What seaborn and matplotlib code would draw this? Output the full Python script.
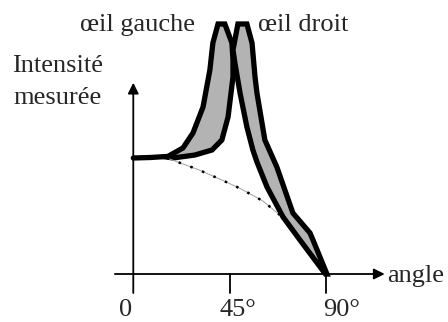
import matplotlib
matplotlib.use("Agg")
import matplotlib.pyplot as plt
import seaborn as sns
import pandas as pd

# angle (degrees) / measured intensity (peak = 100)
base_angle = [0, 8, 15.5]
base_int = [46.4, 46.6, 47.0]

left_angle = [15.7, 23.2, 27.9, 32.6, 35.8, 37.2, 39.6, 42.8, 46.1, 46.6,
              46.6, 44.3, 41.4, 36.8, 28.8, 18.6]
left_int = [46.8, 50.4, 56.4, 66.8, 81.6, 92.4, 100, 100, 92.4, 85.6,
            78.8, 62.8, 53.6, 49.6, 47.6, 46.4]

right_angle = [48.9, 46.6, 47.5, 49.9, 53.1, 55.9, 57.8, 62.5, 70.0, 77.9,
               89.8, 90.5, 84.0, 82.6, 74.6, 67.1, 61.5, 57.8, 56.9, 55.5,
               53.1]
right_int = [100, 89.6, 84.4, 72.4, 58.8, 49.6, 44.8, 34.8, 22.8, 13.6,
             0, 0, 13.6, 16.4, 24.4, 42.8, 53.6, 72.4, 78.8, 92.4, 100]

dot_angle = [15.7, 30.2, 41.4, 50.0, 60.6, 68.5]
dot_int = [46.4, 41.8, 37.6, 34.2, 29.2, 23.6]

tick_angles = [45, 90]
tick_labels = ["0", "45°", "90°"]

sns.set_theme(style="white")
plt.rcParams['font.family'] = ['Liberation Serif', 'DejaVu Serif']

fig = plt.figure(figsize=(4.48, 3.22), dpi=100)
ax = fig.add_axes([0, 0, 1, 1])
ax.set_xlim(-62.3, 147.1)
ax.set_ylim(-19.2, 109.6)
ax.axis("off")

fs = 19

# axes with arrows
ax.annotate("", xy=(117.5, 0), xytext=(-8.6, 0),
            arrowprops=dict(arrowstyle="-|>", color="black", lw=1.3,
                            mutation_scale=16, shrinkA=0, shrinkB=0))
ax.annotate("", xy=(0, 76.5), xytext=(0, -7.6),
            arrowprops=dict(arrowstyle="-|>", color="black", lw=1.3,
                            mutation_scale=16, shrinkA=0, shrinkB=0))
for t in tick_angles:
    ax.plot([t, t], [0, -7.6], color="black", lw=1.3)

ax.text(-3.4, -16.9, tick_labels[0], ha="center", va="baseline", fontsize=fs)
ax.text(40.5, -16.9, tick_labels[1], ha="left", va="baseline", fontsize=fs)
ax.text(88.6, -16.9, tick_labels[2], ha="left", va="baseline", fontsize=fs)
ax.text(118.6, -3.2, "angle", ha="left", va="baseline", fontsize=fs)
ax.text(-35.4, 80.8, "Intensité", ha="center", va="baseline", fontsize=fs)
ax.text(-35.4, 68.0, "mesurée", ha="center", va="baseline", fontsize=fs)
ax.text(-25.0, 97.2, "œil gauche", ha="left", va="baseline", fontsize=fs)
ax.text(58.3, 97.2, "œil droit", ha="left", va="baseline", fontsize=fs)

# dotted line under the peaks
dots = pd.DataFrame({"angle": dot_angle, "intensite": dot_int})
sns.lineplot(data=dots, x="angle", y="intensite", sort=False, estimator=None,
             color="#a0a0a0", lw=0.7, ax=ax)
sns.lineplot(data=dots, x="angle", y="intensite", sort=False, estimator=None,
             color="black", lw=1.8, linestyle=(0, (1, 4)), ax=ax)

# baseline
base = pd.DataFrame({"angle": base_angle, "intensite": base_int})
sns.lineplot(data=base, x="angle", y="intensite", sort=False, estimator=None,
             color="black", lw=3.8, ax=ax)

# the two eye bands
ax.fill(right_angle, right_int, facecolor="#b3b3b3", edgecolor="black",
        lw=3.8, joinstyle="miter")
ax.fill(left_angle, left_int, facecolor="#b3b3b3", edgecolor="black",
        lw=3.8, joinstyle="miter")

ax.set_xlabel("")
ax.set_ylabel("")
fig.savefig("out.png", dpi=100)
